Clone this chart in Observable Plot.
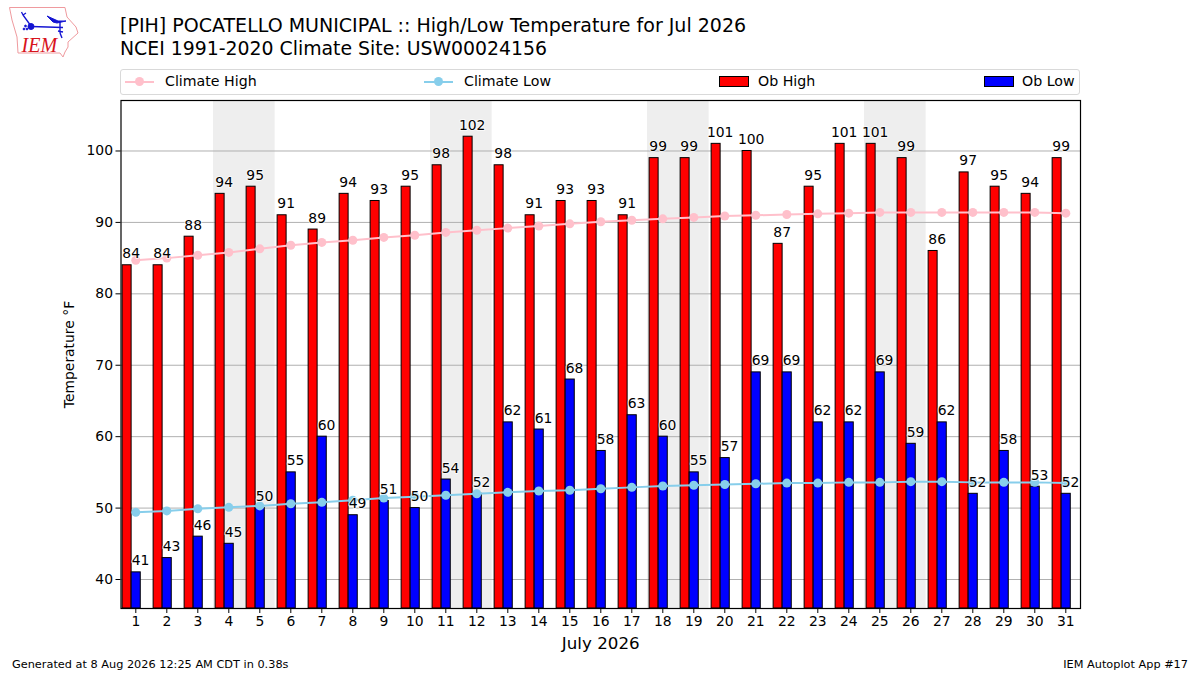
<!DOCTYPE html>
<html><head><meta charset="utf-8">
<script src="https://cdn.jsdelivr.net/npm/d3@7"></script>
<script src="https://cdn.jsdelivr.net/npm/@observablehq/plot@0.6"></script>
<style>
html,body{margin:0;padding:0;background:#fff;width:1200px;height:675px;overflow:hidden;font-family:"DejaVu Sans",sans-serif;color:#000}
#page{position:relative;width:1200px;height:675px}
#header{position:relative;height:90px}
.t{position:absolute;left:120px;font-size:19.02px;line-height:22px;white-space:nowrap}
#legend{position:absolute;left:120px;top:69px;width:958px;height:24px;border:1px solid #d9d9d9;border-radius:3px;background:#fff}
.li{position:absolute;top:0;font-size:14.2px;line-height:23px;white-space:nowrap}
.sw{position:absolute;top:6px;width:28px;height:9px;border:1px solid #000}
.ln{position:absolute;top:10.5px;width:29px;height:2px}
.mk{position:absolute;top:7px;width:9px;height:9px;border-radius:50%}
.foot{position:absolute;top:658px;font-size:11.3px;white-space:nowrap}
svg.logo{position:absolute;left:0;top:0}
</style></head><body>
<div id="page">
<div id="header">
<svg class="logo" width="90" height="65" viewBox="0 0 90 65">
<path d="M9.5 7.5 L65 7.5 L67 17 L76 27 L78 33 L68 42 L68 47 L65 52 L63 57 L60 53 L18 53 L17 37 L12 20 Z" fill="#fff" stroke="#ef9a9e" stroke-width="1"/>
<g stroke="#1414d2" fill="#1414d2">
<path d="M31 26.5 L63 27.5" stroke-width="1.6"/><circle cx="31" cy="26.5" r="3"/>
<path d="M31 26 L23 15 M23 15 L21.500 12 M23 15 L26 13" stroke-width="1.3" fill="none"/>
<path d="M47 16 L58 21 L66 21 L57 23 L53 22 Z"/>
<path d="M60 22 L60 33 M58 31 L63 32 M60 33 L62 38" stroke-width="1.4" fill="none"/>
<circle cx="24" cy="29" r=".9"/><circle cx="27" cy="29" r=".9"/><circle cx="25.500" cy="26" r=".9"/>
</g>
<text x="21.500" y="52" font-family="Liberation Serif" font-style="italic" font-size="20" fill="#d8141c">IEM</text>
</svg>
<div class="t" style="top:13.5px">[PIH] POCATELLO MUNICIPAL :: High/Low Temperature for Jul 2026</div>
<div class="t" style="top:36.5px;font-size:18.88px">NCEI 1991-2020 Climate Site: USW00024156</div>
<div id="legend">
<span class="ln" style="left:4px;background:#ffc0cb"></span><span class="mk" style="left:14px;background:#ffc0cb"></span><span class="li" style="left:44px">Climate High</span>
<span class="ln" style="left:303px;background:#87ceeb"></span><span class="mk" style="left:313px;background:#87ceeb"></span><span class="li" style="left:343px">Climate Low</span>
<span class="sw" style="left:598px;background:#f00"></span><span class="li" style="left:637px">Ob High</span>
<span class="sw" style="left:863px;background:#00f"></span><span class="li" style="left:901px">Ob Low</span>
</div>
</div>
<div id="chart"></div>
<div class="foot" style="left:12px">Generated at 8 Aug 2026 12:25 AM CDT in 0.38s</div>
<div class="foot" style="right:12px">IEM Autoplot App #17</div>
</div>
<script>
const days = d3.range(1, 32);
const obHigh = [84,84,88,94,95,91,89,94,93,95,98,102,98,91,93,93,91,99,99,101,100,87,95,101,101,99,86,97,95,94,99];
const obLow = [41,43,46,45,50,55,60,49,51,50,54,52,62,61,68,58,63,60,55,57,69,69,62,62,69,59,62,52,58,53,52];
const climateHigh = [84.7,85.0,85.4,85.8,86.3,86.8,87.2,87.5,87.9,88.2,88.6,88.9,89.2,89.5,89.8,90.1,90.3,90.5,90.7,90.9,91.0,91.1,91.2,91.3,91.4,91.4,91.4,91.4,91.4,91.4,91.3];
const climateLow = [49.4,49.6,49.9,50.1,50.3,50.6,50.8,51.1,51.4,51.6,51.8,52.0,52.2,52.4,52.5,52.7,52.9,53.1,53.2,53.3,53.4,53.5,53.5,53.6,53.6,53.7,53.7,53.6,53.6,53.6,53.5];
const weekendStarts = [4, 11, 18, 25];
const yTicks = [40,50,60,70,80,90,100];

const rows = days.map((d,i)=>({d, hi:obHigh[i], lo:obLow[i], ch:climateHigh[i], cl:climateLow[i]}));
const yMin = 35.94, yMax = 107.07;
const barStyle = {stroke:"#000", strokeWidth:1};
const labelStyle = {fontSize:13.9, fill:"#000", stroke:"#fff", strokeWidth:2, strokeOpacity:.7, lineAnchor:"bottom", dy:-7};

const plot = Plot.plot({
  width:1200, height:570,
  marginTop:10, marginBottom:52, marginLeft:120.5, marginRight:120,
  style:{fontFamily:"DejaVu Sans", fontSize:"13.9px", background:"transparent", color:"#000", overflow:"visible"},
  x:{domain:[0.5226,31.474], label:null},
  y:{domain:[yMin,yMax], label:null},
  marks:[
    Plot.rect(weekendStarts,{x1:d=>d-0.495,x2:d=>d+1.495,y1:yMin,y2:yMax,fill:"#eeeeee"}),
    Plot.ruleY(yTicks,{stroke:"#b0b0b0",strokeWidth:1}),
    Plot.rect(rows,{x1:d=>d.d-0.425,x2:d=>d.d-0.135,y1:yMin,y2:"hi",fill:"#f00",...barStyle}),
    Plot.rect(rows,{x1:d=>d.d-0.135,x2:d=>d.d+0.16,y1:yMin,y2:"lo",fill:"#00f",...barStyle}),
    Plot.line(rows,{x:"d",y:"ch",stroke:"#ffc0cb",strokeWidth:2}),
    Plot.dot(rows,{x:"d",y:"ch",fill:"#ffc0cb",r:4.5}),
    Plot.line(rows,{x:"d",y:"cl",stroke:"#87ceeb",strokeWidth:2}),
    Plot.dot(rows,{x:"d",y:"cl",fill:"#87ceeb",r:4.5}),
    Plot.text(rows,{x:d=>d.d-0.15,y:"hi",text:d=>String(d.hi),...labelStyle}),
    Plot.text(rows,{x:d=>d.d+0.155,y:"lo",text:d=>String(d.lo),...labelStyle}),
    Plot.frame({stroke:"#000",strokeWidth:1.2}),
    Plot.axisY({ticks:yTicks,tickSize:5,tickPadding:3,label:"Temperature °F",labelAnchor:"center",labelArrow:"none",labelOffset:57,fontSize:13.9}),
    Plot.axisX({ticks:days,tickSize:5,tickPadding:3,tickFormat:d=>String(d),label:null,fontSize:13.9}),
    Plot.text(["July 2026"],{frameAnchor:"bottom",dy:40,fontSize:16.7,fill:"#000"})
  ]
});
document.getElementById("chart").appendChild(plot);
</script>
</body></html>
